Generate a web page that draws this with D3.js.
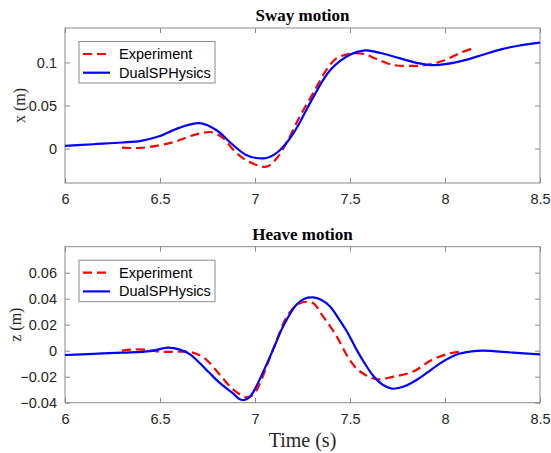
<!DOCTYPE html>
<html>

<head>
    <meta charset="utf-8">
    <style>
        body {
            margin: 0;
            background: #fff;
        }

        svg {
            font-family: 'Liberation Sans', Arial, sans-serif;
        }

        .tick text {
            font-size: 14.5px;
            fill: #262626;
        }

        .title {
            font-family: 'Liberation Serif', 'Times New Roman', serif;
            font-weight: bold;
            font-size: 17px;
            fill: #000;
        }

        .axis-label {
            font-family: 'Liberation Serif', 'Times New Roman', serif;
            font-size: 16px;
            fill: #262626;
        }

        .legend-text {
            font-size: 14.5px;
            fill: #000;
        }
    </style>
</head>

<body>
    <svg width="551" height="453"></svg>
</body>

<script src="https://d3js.org/d3.v7.min.js"></script>

<script>
    let svg = d3.select("svg")

    // Sway (x) - experiment
    let swayExpT = [6.3, 6.4, 6.5, 6.58, 6.64, 6.7, 6.763, 6.8, 6.833, 6.9, 6.974, 7.06, 7.11, 7.167, 7.237, 7.307, 7.377, 7.43, 7.5, 7.57, 7.64, 7.728, 7.833, 7.9, 7.99, 8.079, 8.14]
    let swayExpV = [0.001, 0.0008, 0.004, 0.008, 0.013, 0.017, 0.0192, 0.0165, 0.012, -0.0046, -0.016, -0.021, -0.0124, 0.007, 0.0377, 0.0647, 0.0916, 0.105, 0.110, 0.110, 0.104, 0.097, 0.096, 0.097, 0.102, 0.111, 0.116]

    // Sway (x) - DualSPHysics
    let swaySimT = [6.0, 6.15, 6.3, 6.4, 6.5, 6.6, 6.71, 6.8, 6.87, 6.956, 7.044, 7.08, 7.12, 7.16, 7.2, 7.24, 7.28, 7.32, 7.36, 7.4, 7.45, 7.5, 7.58, 7.66, 7.76, 7.85, 7.93, 8.0, 8.11, 8.2, 8.3, 8.4, 8.5]
    let swaySimV = [0.003, 0.005, 0.007, 0.009, 0.0145, 0.024, 0.0295, 0.021, 0.007, -0.0077, -0.0115, -0.0095, -0.004, 0.005, 0.017, 0.032, 0.049, 0.065, 0.080, 0.092, 0.102, 0.109, 0.114, 0.111, 0.105, 0.0995, 0.097, 0.098, 0.103, 0.109, 0.1155, 0.120, 0.123]

    // Heave (z) - experiment
    let heaveExpT = [6.3, 6.35, 6.42, 6.5, 6.59, 6.658, 6.7, 6.746, 6.816, 6.886, 6.956, 6.99, 7.018, 7.07, 7.114, 7.167, 7.228, 7.3, 7.36, 7.43, 7.5, 7.553, 7.64, 7.728, 7.833, 7.93, 8.026, 8.08]
    let heaveExpV = [0.0, 0.0008, 0.0008, -0.0008, -0.0008, -0.001, -0.003, -0.0072, -0.0187, -0.030, -0.0359, -0.034, -0.0277, -0.0085, 0.008, 0.026, 0.036, 0.037, 0.026, 0.011, -0.0075, -0.016, -0.022, -0.020, -0.016, -0.0072, -0.002, -0.0008]

    // Heave (z) - DualSPHysics
    let heaveSimT = [6.0, 6.15, 6.3, 6.45, 6.54, 6.6, 6.66, 6.71, 6.76, 6.816, 6.886, 6.915, 6.94, 6.965, 6.99, 7.044, 7.096, 7.149, 7.219, 7.26, 7.307, 7.35, 7.395, 7.45, 7.483, 7.53, 7.57, 7.623, 7.67, 7.72, 7.76, 7.8, 7.85, 7.9, 7.974, 8.03, 8.079, 8.14, 8.2, 8.36, 8.5]
    let heaveSimV = [-0.0033, -0.0024, -0.0015, -0.0003, 0.0023, 0.001, -0.003, -0.0097, -0.017, -0.025, -0.033, -0.037, -0.038, -0.0365, -0.032, -0.016, 0.001, 0.019, 0.0355, 0.040, 0.041, 0.039, 0.034, 0.0225, 0.015, 0.002, -0.008, -0.0195, -0.026, -0.0292, -0.0285, -0.0265, -0.0225, -0.0175, -0.0097, -0.005, -0.0022, -0.0005, 0.0, -0.0015, -0.0028]

    let xTicks = [6, 6.5, 7, 7.5, 8, 8.5]
    let swayTicks = [0, 0.05, 0.1]
    let heaveTicks = [-0.04, -0.02, 0, 0.02, 0.04, 0.06]
    let seriesNames = ["Experiment", "DualSPHysics"]

    let left = 65, right = 540
    let panels = [{
        title: "Sway motion",
        ylabel: "x (m)",
        top: 28,
        bottom: 183,
        domain: [-0.04, 0.14],
        ticks: swayTicks,
        fmt: d => d3.format("")(d),
        exp: swayExpT.map((t, i) => [t, swayExpV[i]]),
        sim: swaySimT.map((t, i) => [t, swaySimV[i]])
    }, {
        title: "Heave motion",
        ylabel: "z (m)",
        top: 246.7,
        bottom: 402.7,
        domain: [-0.04, 0.08],
        ticks: heaveTicks,
        fmt: d => d3.format(".2f")(d).replace("0.00", "0"),
        exp: heaveExpT.map((t, i) => [t, heaveExpV[i]]),
        sim: heaveSimT.map((t, i) => [t, heaveSimV[i]])
    }]

    let x = d3.scaleLinear()
        .domain([6, 8.5])
        .range([left, right])

    panels.forEach(p => {
        let y = d3.scaleLinear()
            .domain(p.domain)
            .range([p.bottom, p.top])

        let g = svg.append("g")

        // box
        g.append("rect")
            .attr("x", left)
            .attr("y", p.top)
            .attr("width", right - left)
            .attr("height", p.bottom - p.top)
            .attr("fill", "white")
            .attr("stroke", "#8a8a8a")
            .attr("stroke-width", 1)

        // axes, ticks inward on all sides
        let styleAxis = ax => ax.call(a => a.select(".domain").remove())
            .call(a => a.selectAll(".tick line").attr("stroke", "#8a8a8a"))

        g.append("g")
            .attr("transform", `translate(0,${p.bottom})`)
            .call(d3.axisBottom(x).tickValues(xTicks).tickSize(-5).tickPadding(11).tickFormat(d3.format("")))
            .call(styleAxis)
            .call(a => a.selectAll("text").attr("fill", "#262626"))

        g.append("g")
            .attr("transform", `translate(0,${p.top})`)
            .call(d3.axisTop(x).tickValues(xTicks).tickSize(-5).tickFormat(""))
            .call(styleAxis)

        g.append("g")
            .attr("transform", `translate(${left},0)`)
            .call(d3.axisLeft(y).tickValues(p.ticks).tickSize(-5).tickPadding(8).tickFormat(p.fmt))
            .call(styleAxis)

        g.append("g")
            .attr("transform", `translate(${right},0)`)
            .call(d3.axisRight(y).tickValues(p.ticks).tickSize(-5).tickFormat(""))
            .call(styleAxis)

        let line = d3.line()
            .x(d => x(d[0]))
            .y(d => y(d[1]))
            .curve(d3.curveCatmullRom.alpha(0.5))

        g.append("path")
            .datum(p.exp)
            .attr("d", line)
            .attr("fill", "none")
            .attr("stroke", "#ff0000")
            .attr("stroke-width", 2.2)
            .attr("stroke-dasharray", "9,5")

        g.append("path")
            .datum(p.sim)
            .attr("d", line)
            .attr("fill", "none")
            .attr("stroke", "#0000ff")
            .attr("stroke-width", 2.2)

        // title
        g.append("text")
            .attr("class", "title")
            .attr("x", (left + right) / 2)
            .attr("y", p.top - 7)
            .attr("text-anchor", "middle")
            .text(p.title)

        // y label
        g.append("text")
            .attr("class", "axis-label")
            .attr("transform", `translate(${p.title == "Sway motion" ? 25 : 21},${(p.top + p.bottom) / 2}) rotate(-90)`)
            .attr("text-anchor", "middle")
            .text(p.ylabel)

        // legend
        let lx = 79, ly = p.top + 13.5
        g.append("rect")
            .attr("x", lx)
            .attr("y", ly)
            .attr("width", 136)
            .attr("height", 41.5)
            .attr("fill", "white")
            .attr("stroke", "#8a8a8a")
            .attr("stroke-width", 1)

        seriesNames.forEach((name, i) => {
            let yy = ly + 12.5 + i * 18.7
            g.append("line")
                .attr("x1", lx + 4)
                .attr("x2", lx + 31)
                .attr("y1", yy)
                .attr("y2", yy)
                .attr("stroke", i == 0 ? "#ff0000" : "#0000ff")
                .attr("stroke-width", 2.2)
                .attr("stroke-dasharray", i == 0 ? "9,5" : null)

            g.append("text")
                .attr("class", "legend-text")
                .attr("x", lx + 40)
                .attr("y", yy + 5)
                .text(name)
        })
    })

    // x label
    svg.append("text")
        .attr("class", "axis-label")
        .attr("x", (left + right) / 2)
        .attr("y", 447)
        .attr("text-anchor", "middle")
        .style("font-size", "20px")
        .text("Time (s)")
</script>

</html>
